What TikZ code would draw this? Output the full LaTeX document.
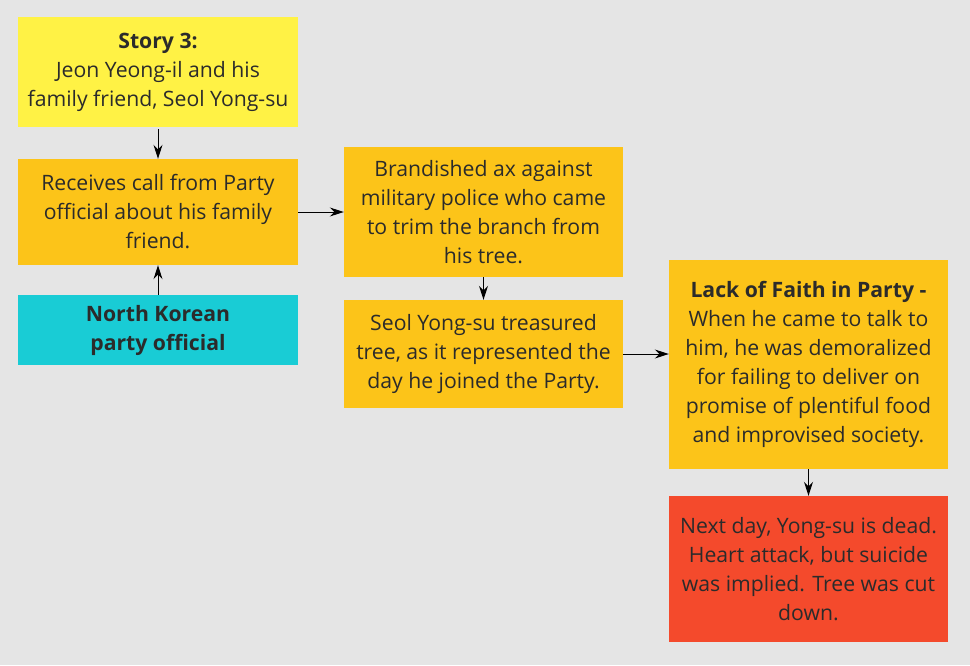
\documentclass[tikz,border=0pt]{standalone}
\usepackage{fontspec}
\setmainfont{Open Sans}
\usetikzlibrary{arrows.meta}
\definecolor{bgc}{HTML}{E5E5E5}
\definecolor{yel}{HTML}{FFF245}
\definecolor{org}{HTML}{FCC419}
\definecolor{cya}{HTML}{19CCD5}
\definecolor{rdc}{HTML}{F44A2C}
\definecolor{txt}{HTML}{2B2B2B}
\tikzset{
  card/.style={rectangle, inner sep=0pt, align=center, text=txt,
    font=\fontsize{21.2}{29}\selectfont},
  conn/.style={-{Stealth[length=14pt,width=9pt]}, line width=1pt, black}
}
\begin{document}
\begin{tikzpicture}[x=1pt,y=-1pt]
\fill[bgc] (0,0) rectangle (970,665);
\useasboundingbox (0,0) rectangle (970,665);
\node[card, fill=yel, minimum width=280pt, minimum height=110pt] (b1) at (158,72)
  {\textbf{Story 3:}\\Jeon Yeong-il and his\\family friend, Seol Yong-su};
\node[card, fill=org, minimum width=280pt, minimum height=106pt] (b2) at (158,212)
  {Receives call from Party\\official about his family\\friend.};
\node[card, fill=cya, minimum width=280pt, minimum height=70pt] (b3) at (158,330)
  {\textbf{North Korean}\\\textbf{party official}};
\node[card, fill=org, minimum width=279pt, minimum height=130pt] (b4) at (483.5,212)
  {Brandished ax against\\military police who came\\to trim the branch from\\his tree.};
\node[card, fill=org, minimum width=279pt, minimum height=108pt] (b5) at (483.5,354)
  {Seol Yong-su treasured\\tree, as it represented the\\day he joined the Party.};
\node[card, fill=org, minimum width=279pt, minimum height=209pt] (b6) at (808.5,364.5)
  {\textbf{Lack of Faith in Party -}\\When he came to talk to\\him, he was demoralized\\for failing to deliver on\\promise of plentiful food\\and improvised society.};
\node[card, fill=rdc, minimum width=279pt, minimum height=146pt] (b7) at (808.5,569)
  {Next day, Yong-su is dead.\\Heart attack, but suicide\\was implied. Tree was cut\\down.};
\draw[conn] ([yshift=-2pt]b1.south) -- (b2.north);
\draw[conn] (b3.north) -- (b2.south);
\draw[conn] (b2.east) -- (b2.east -| b4.west);
\draw[conn] (b4.south) -- (b5.north);
\draw[conn] (b5.east) -- (b5.east -| b6.west);
\draw[conn] (b6.south) -- (b7.north);
\end{tikzpicture}
\end{document}
